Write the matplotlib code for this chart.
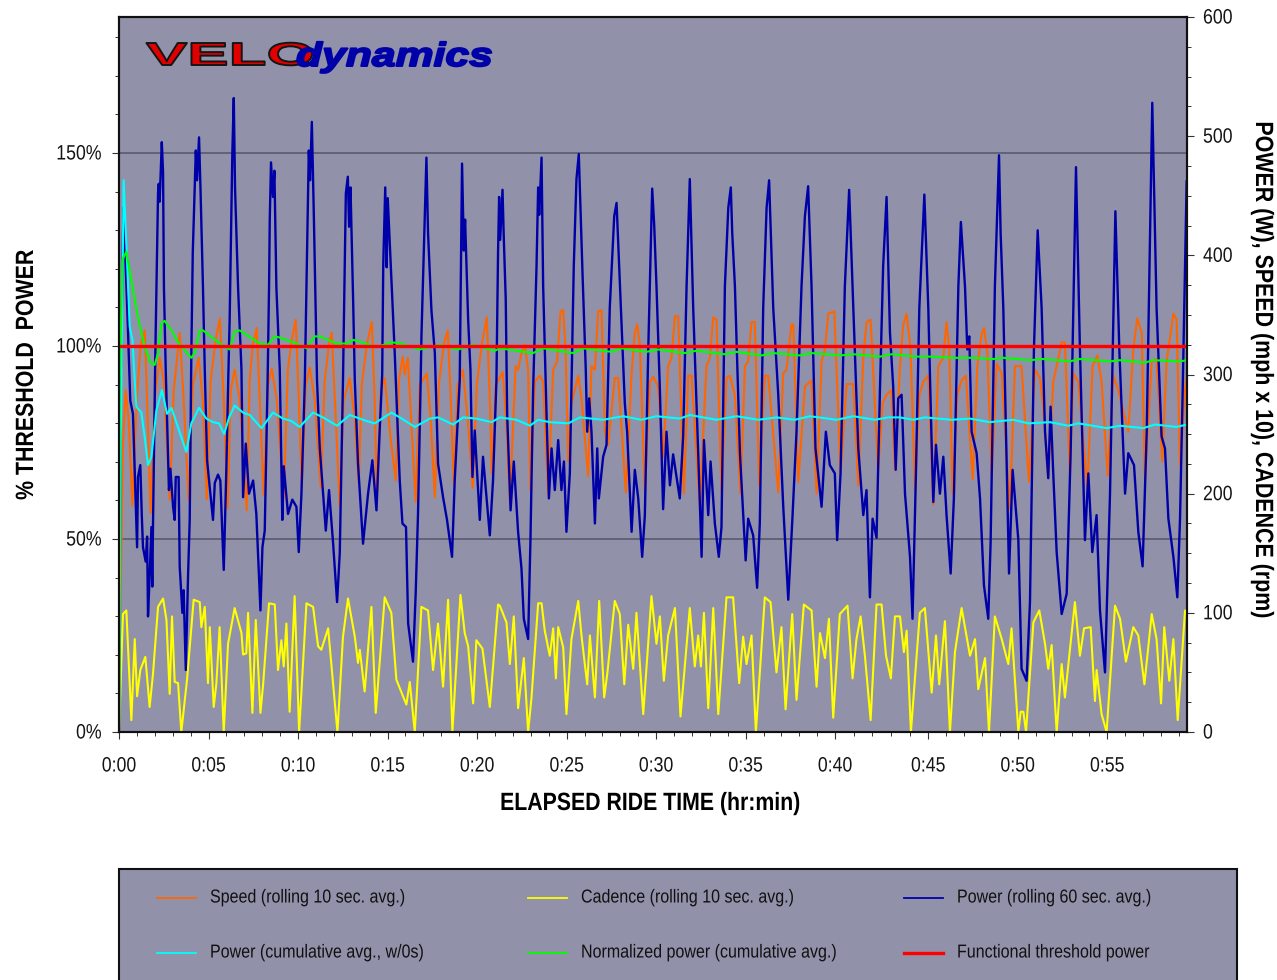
import matplotlib
matplotlib.use("Agg")
import matplotlib.pyplot as plt
import matplotlib.patheffects as pe
from matplotlib.lines import Line2D
from matplotlib.patches import Rectangle
from matplotlib.ticker import MultipleLocator, FixedLocator
from matplotlib.transforms import Affine2D

# --- data: (elapsed minutes, value on the right-hand axis) ---
power = [(0,0),(0.1,300),(0.25,440),(0.45,360),(0.63,278),(0.78,267),(1.01,155),(1.06,214),(1.19,224),(1.27,183),(1.34,155),(1.49,143),(1.57,164),(1.62,97),(1.71,130),(1.81,172),(1.86,122),(1.90,175),(2.03,318),(2.09,373),(2.18,452),(2.22,460),(2.27,445),(2.39,495),(2.46,470),(2.51,373),(2.61,304),
(2.79,203),(2.87,221),(3.02,189),(3.11,178),(3.17,214),(3.33,214),(3.39,139),(3.54,100),(3.61,119),(3.73,52),(3.86,133),(3.95,178),(4.04,318),(4.12,402),(4.29,488),(4.36,463),(4.47,499),(4.55,457),(4.69,373),(4.79,304),
(4.92,228),(5.03,211),(5.25,178),(5.35,209),(5.53,216),(5.66,211),(5.85,136),(6.0,223),(6.1,295),(6.18,346),(6.33,486),(6.41,532),(6.48,457),(6.65,373),(6.84,304),
(6.93,197),(7.08,242),(7.26,200),(7.49,211),(7.67,183),(7.90,102),(8.01,155),(8.14,169),(8.30,295),(8.38,373),(8.42,430),(8.49,478),(8.60,449),(8.68,471),(8.79,373),(8.98,304),
(9.12,178),(9.2,223),(9.44,183),(9.68,195),(9.91,189),(10.04,151),(10.19,200),(10.38,295),(10.47,373),(10.6,488),(10.67,463),(10.77,512),(10.88,435),(11.0,340),(11.06,295),
(11.21,239),(11.55,169),(11.73,203),(11.96,158),(12.18,109),(12.33,150),(12.51,295),(12.67,452),(12.78,466),(12.85,424),(12.93,457),(13.08,360),(13.17,295),
(13.35,225),(13.63,158),(13.91,200),(14.15,228),(14.38,186),(14.56,253),(14.7,300),(14.76,393),(14.87,457),(14.95,390),(15.01,448),(15.22,379),(15.4,318),
(15.68,211),(15.83,175),(16.03,172),(16.15,91),(16.42,59),(16.57,116),(16.7,183),(16.85,295),(16.89,331),(17.08,435),(17.17,482),(17.26,419),(17.45,354),(17.64,318),
(17.82,225),(18.1,197),(18.32,178),(18.6,147),(18.75,211),(19.03,295),(19.16,477),(19.26,404),(19.33,430),(19.5,346),(19.63,304),
(19.74,214),(19.87,253),(20.15,178),(20.33,231),(20.71,165),(20.89,211),(21.08,295),(21.17,402),(21.23,449),(21.29,413),(21.42,455),(21.49,415),(21.6,363),
(21.68,266),(21.87,186),(22.05,227),(22.29,168),(22.48,137),(22.61,95),(22.85,78),(22.98,161),(23.13,287),(23.32,391),(23.41,457),(23.47,434),(23.6,482),
(23.69,374),(23.88,266),(24.01,196),(24.16,238),(24.34,203),(24.53,245),(24.71,203),(24.85,227),(24.99,168),(25.18,217),(25.4,391),(25.55,464),(25.68,485),
(25.89,384),(26.07,304),(26.15,252),(26.26,280),(26.39,252),(26.58,175),(26.71,238),(26.8,196),(27.04,231),(27.23,241),(27.41,356),(27.66,433),(27.79,444),
(28.01,363),(28.25,276),(28.38,252),(28.63,168),(28.81,220),(29.0,196),(29.22,147),(29.37,182),(29.56,321),(29.78,456),(29.89,426),
(30.02,374),(30.21,287),(30.39,187),(30.58,252),(30.77,207),(30.95,233),(31.32,196),(31.51,248),(31.7,374),(31.88,464),
(32.07,356),(32.35,234),(32.54,147),(32.67,245),(32.91,182),(33.04,227),(33.28,175),(33.5,147),(33.65,172),(33.84,374),(34.03,440),(34.17,457),(34.25,419),
(34.4,374),(34.68,234),(35.0,144),(35.14,179),(35.42,165),(35.64,121),(35.79,175),(35.98,356),(36.17,440),(36.31,463),
(36.54,356),(36.82,283),(37.1,189),(37.38,111),(37.62,182),(37.84,252),(38.12,374),(38.31,433),(38.49,458),
(38.68,374),(38.9,238),(39.24,189),(39.48,252),(39.7,224),(39.98,217),(40.11,161),(40.3,217),(40.54,374),(40.78,455),
(41.01,356),(41.29,238),(41.57,182),(41.75,203),(41.94,113),(42.09,179),(42.31,163),(42.5,287),(42.68,391),(42.87,449),
(43.06,335),(43.24,290),(43.38,220),(43.52,280),(43.71,283),(43.9,200),(44.18,147),(44.32,95),(44.51,217),(44.7,356),(44.98,451),
(45.2,356),(45.39,241),(45.48,193),(45.63,241),(45.85,200),(46.04,231),(46.22,182),(46.45,133),(46.63,196),(46.88,374),(47.02,428),
(47.25,374),(47.38,321),(47.49,332),(47.62,252),(47.9,234),(48.09,196),(48.31,123),(48.55,95),(48.68,158),(48.92,374),(49.15,484),(49.24,419),
(49.39,356),(49.58,224),(49.71,133),(49.91,220),(50.23,161),(50.41,53),(50.69,43),(50.88,109),(51.1,321),(51.31,421),
(51.53,356),(51.72,252),(51.9,213),(52.03,273),(52.18,217),(52.37,151),(52.65,99),(52.93,116),(53.15,234),(53.45,474),
(53.67,321),(53.95,161),(54.14,217),(54.36,151),(54.6,182),(54.79,102),(55.07,50),(55.35,200),(55.65,437),
(55.87,321),(56.19,200),(56.37,234),(56.69,224),(56.93,168),(57.17,139),(57.4,252),(57.71,528),
(57.95,356),(58.23,248),(58.42,238),(58.61,179),(58.89,147),(59.11,113),(59.26,179),(59.41,287),(59.63,462)]

speed = [(0,0),(.09,111),(.21,237),(.37,287),(.54,262),(.75,190),(.99,279),(1.21,325),(1.44,337),(1.60,262),(1.77,184),(1.99,279),(2.27,314),(2.5,295),(2.83,195),(3.06,287),(3.39,335),(3.61,279),(3.89,195),(4.12,291),(4.45,314),(4.68,279),(4.90,195),(5.12,295),(5.40,329),(5.63,347),(5.85,279),(6.07,188),(6.24,287),(6.46,304),(6.74,279),(7.13,186),(7.3,295),(7.47,325),(7.69,339),(7.86,279),(8.08,199),(8.31,291),(8.53,305),(8.81,279),(9.2,196),(9.43,304),(9.65,329),(9.87,346),(10.04,279),(10.21,206),(10.43,291),(10.65,306),(10.93,279),(11.27,205),(11.49,295),(11.72,325),(11.88,335),(12.11,262),(12.33,189),(12.55,279),(12.89,297),(13.17,262),(13.39,209),(13.56,291),(13.84,325),(14.12,344),(14.28,279),(14.4,195),(14.62,287),(14.84,297),(15.18,245),(15.46,211),(15.63,295),(15.85,315),(15.96,300),(16.13,314),(16.35,253),(16.57,193),(16.8,291),(17.19,301),(17.41,262),(17.64,197),(17.86,291),(18.14,325),(18.36,337),(18.53,279),(18.7,209),(18.92,291),(19.2,304),(19.48,262),(19.76,205),(19.98,291),(20.26,325),(20.54,348),(20.71,279),(20.82,217),(21.04,291),(21.43,302),(21.64,259),(21.83,193),
(22.15,307),(22.29,304),(22.48,318),(22.67,325),(22.85,304),(22.98,203),(23.23,294),(23.5,299),(23.69,294),(23.97,200),(24.25,304),(24.47,311),(24.66,353),(24.81,354),(24.94,321),(25.09,227),(25.27,276),(25.65,299),(25.83,280),(26.2,215),(26.39,307),(26.58,304),(26.76,353),(26.95,354),(27.14,252),(27.32,241),(27.69,297),(27.88,297),(28.31,201),(28.63,301),(28.81,335),(28.94,342),(29.09,325),(29.37,203),(29.65,294),(29.84,298),(30.11,290),(30.39,231),(30.67,307),(30.86,314),(31.05,349),(31.23,349),(31.55,200),(31.79,299),(31.98,299),(32.44,189),(32.81,307),(33.0,314),(33.19,348),(33.37,346),(33.65,201),(33.93,297),(34.12,299),(34.4,283),(34.71,200),(34.96,307),(35.14,311),(35.33,344),(35.51,344),(35.76,207),(36.07,299),(36.26,299),(36.82,201),(37.1,301),(37.28,304),(37.56,342),(37.66,342),(37.94,210),(38.31,290),(38.68,295),(38.96,200),(39.24,311),(39.43,321),(39.61,351),(39.95,353),(40.3,217),(40.64,292),(41.01,292),(41.29,207),(41.57,314),(41.75,344),(41.98,346),(42.4,219),(42.65,276),(42.87,283),(43.15,287),
(43.34,220),(43.62,307),(43.8,342),(43.99,351),(44.21,321),(44.46,203),(44.7,283),(44.92,294),(45.2,299),(45.48,191),(45.76,307),(46.04,314),(46.22,344),(46.37,321),(46.56,200),(46.82,283),(47.06,295),(47.3,299),(47.68,212),(47.94,307),(48.18,334),(48.31,339),(48.5,318),(48.74,215),(49.02,309),(49.3,301),(49.76,187),(50.04,307),(50.41,307),(50.82,210),(51.16,304),(51.44,297),(51.62,273),(51.9,213),(52.18,294),(52.37,307),(52.65,327),(52.83,327),(53.11,215),(53.3,301),(53.58,294),(54.08,205),(54.38,307),(54.64,316),(54.88,294),(55.22,215),(55.53,299),(55.81,287),(56.37,252),(56.65,321),(56.87,347),(57.12,335),(57.3,212),(57.68,311),(57.95,313),(58.27,227),(58.51,311),(58.89,351),(59.07,346),(59.26,224),(59.54,287),(59.65,300)]

cadence = [(0,0),(.22,99),(.41,102),(.5,72),(.69,10),(.88,78),(1.01,30),(1.19,52),(1.47,63),(1.71,21),(1.90,49),(2.18,105),(2.46,112),(2.65,94),(2.83,32),(2.96,97),(3.11,42),(3.3,41),(3.48,0),(3.8,44),(4.17,111),(4.51,109),(4.6,88),(4.79,105),(4.97,41),(5.07,88),(5.29,21),(5.44,41),(5.62,88),(5.85,0),(6.09,74),(6.46,104),(6.84,83),(6.93,65),(7.11,66),(7.21,100),(7.45,16),(7.64,94),(7.9,16),(8.05,40),(8.38,108),(8.7,107),(8.88,52),(9.07,77),(9.2,55),(9.35,91),(9.53,17),(9.81,114),(10.06,0),(10.47,108),(10.84,105),(11.12,72),(11.3,69),(11.68,87),(12.2,0),(12.51,80),(12.79,112),(13.17,80),(13.35,58),(13.45,69),(13.72,34),(14.1,105),(14.34,16),(14.84,113),(15.21,100),(15.49,44),(16.05,23),(16.24,42),(16.52,0),(16.89,105),(17.26,102),(17.54,52),(17.82,91),(18.1,38),(18.38,111),(18.62,0),(19.07,115),(19.31,83),(19.5,72),(19.78,24),(19.96,77),(20.3,70),(20.71,21),(21.17,107),(21.27,106),(21.64,92),(21.83,57),
(22.05,97),(22.29,20),(22.61,62),(22.85,0),(23.04,29),(23.41,108),(23.6,108),(23.78,85),(24.06,64),(24.25,87),(24.4,45),(24.53,88),(24.81,71),(24.99,15),(25.27,78),(25.65,110),(25.83,81),(26.15,40),(26.3,81),(26.58,29),(26.82,110),(27.1,29),(27.28,50),(27.69,110),(27.97,99),(28.22,40),(28.44,90),(28.72,53),(28.9,100),(29.28,15),(29.74,114),(30.02,74),(30.21,97),(30.43,43),(30.67,81),(31.05,104),(31.36,13),(31.88,104),(32.16,55),(32.35,81),(32.5,55),(32.67,100),(32.91,20),(33.19,104),(33.47,15),(33.93,113),(34.3,113),(34.64,41),(34.86,80),(35.05,57),(35.33,81),(35.57,0),(36.07,113),(36.39,109),(36.72,50),(37.0,88),(37.23,19),(37.6,99),(37.84,27),(38.25,107),(38.68,102),(38.96,38),(39.15,83),(39.43,62),(39.65,95),(39.89,12),(40.26,99),(40.69,106),(40.97,45),(41.19,78),(41.42,97),(41.66,64),(41.98,10),(42.31,107),(42.59,107),(42.84,64),(43.11,45),
(43.34,97),(43.62,97),(43.84,67),(43.99,85),(44.23,0),(44.73,100),(45.01,104),(45.39,33),(45.63,81),(45.81,40),(46.13,93),(46.41,0),(46.69,67),(47.06,104),(47.53,64),(47.81,78),(47.99,36),(48.37,62),(48.59,0),(48.92,97),(49.3,78),(49.67,57),(49.85,87),(50.23,0),(50.36,17),(50.51,17),(50.66,0),(51.07,92),(51.4,102),(51.72,74),(51.9,53),(52.09,73),(52.37,0),(52.65,57),(52.83,29),(53.39,109),(53.67,64),(53.9,87),(54.27,88),(54.51,26),(54.6,52),(54.88,15),(55.16,0),(55.63,106),(55.91,95),(56.24,59),(56.65,88),(56.93,81),(57.27,40),(57.68,99),(57.95,78),(58.2,24),(58.38,88),(58.66,43),(58.89,78),(59.13,10),(59.54,102),(59.65,99)]

power_cum = [(0,0),(.1,250),(.26,463),(.43,402),(.6,340),(.75,329),(.88,295),(.97,273),(1.25,268),(1.44,247),(1.62,224),(1.81,231),(2.09,270),(2.4,287),(2.68,267),(2.93,272),(3.76,235),(4.04,259),(4.47,272),(4.88,263),(5.25,260),(5.59,259),(5.87,250),(6.15,264),(6.46,274),(6.93,268),(7.3,266),(7.96,255),(8.6,268),(9.16,263),(9.63,261),(10.09,256),(10.84,268),(11.4,264),(12.18,257),(12.89,266),(13.82,261),(14.28,259),(15.22,268),(15.68,264),(16.52,256),(17.36,263),(17.82,264),(18.66,258),(19.22,264),(19.97,263),(20.81,260),(21.27,264),(22.2,262),(22.95,257),(23.41,262),(24.06,260),(25.09,259),(25.74,264),(27.04,262),(28.16,265),(29.18,262),(30.02,265),(31.32,263),(31.88,266),(33.37,262),(34.49,265),(35.7,262),(36.72,264),(37.75,262),(38.59,265),(40.08,262),(41.01,265),(42.22,262),(42.96,264),(43.62,264),(44.36,262),(45.01,264),(46.5,262),(47.53,263),(48.64,260),(49.95,262),(50.79,259),(52.0,260),(53.02,257),(53.58,259),(55.16,255),(55.91,257),(57.21,255),(57.86,258),(59.07,256),(59.65,258)]

norm_power = [(0,0),(.04,295),(.19,396),(.41,403),(.69,379),(1.06,348),(1.44,323),(1.75,310),(1.99,308),(2.18,318),(2.37,343),(2.55,345),(2.93,337),(3.39,325),(4.04,314),(4.23,318),(4.51,337),(4.69,337),(5.63,326),(6.18,321),(6.46,336),(6.74,337),(7.86,326),(8.32,325),(8.7,332),(8.98,331),(9.91,326),(10.47,322),(10.93,332),(11.21,332),(12.15,326),(12.7,326),(13.08,329),(13.35,328),(14.38,323),(15.22,327),(15.78,326),(16.8,321),(17.92,325),(18.94,321),(19.78,325),(20.99,320),(21.27,322),(23.13,318),(23.69,322),(25.37,318),(25.92,322),(27.51,319),(28.07,322),(29.46,319),(30.11,321),(31.6,318),(32.26,320),(33.84,317),(34.49,319),(35.89,316),(36.54,318),(38.03,316),(38.68,318),(40.26,316),(41.01,317),(42.5,315),(43.15,317),(44.55,315),(45.29,315),(46.78,314),(47.71,314),(48.83,313),(49.39,314),(50.88,312),(51.62,313),(53.11,311),(53.67,313),(55.35,311),(55.91,312),(57.3,310),(57.77,312),(59.26,311),(59.65,312)]

ride_end = 59.65
ftp_watts = 324
x_labels = ["0:00","0:05","0:10","0:15","0:20","0:25","0:30","0:35","0:40","0:45","0:50","0:55"]
# The reference's time axis has a small jump between 0:40 and 0:45.
x_major = [0,5,10,15,20,25,30,35,40,45.2,50.2,55.2]
x_minor = list(range(0, 41)) + [41.04,42.08,43.12,44.16,46.2,47.2,48.2,49.2,51.2,52.2,53.2,54.2,56.2,57.2,58.2,59.2]
pct_ticks = [0,50,100,150]
pct_labels = ["0%","50%","100%","150%"]
right_ticks = [0,100,200,300,400,500,600]
legend_labels = ["Speed (rolling 10 sec. avg.)","Cadence (rolling 10 sec. avg.)","Power (rolling 60 sec. avg.)",
                 "Power (cumulative avg., w/0s)","Normalized power (cumulative avg.)","Functional threshold power"]

# --- styles ---
W, H = 1277, 980
BG = "#9191AA"
C_SPEED, C_CAD, C_POW, C_CUM, C_NP, C_FTP = "#FF6600", "#FFFF00", "#0000A8", "#00FFFF", "#00FF00", "#FF0000"
plt.rcParams["font.family"] = ["Liberation Sans"]

class Squeeze(pe.AbstractPathEffect):
    """Scale glyphs along the text direction, keeping the alignment anchor; optional outline."""
    def __init__(self, sx, frac=0.0, edge=None, lw=0):
        super().__init__()
        self.sx, self.frac, self.edge, self.lw = sx, frac, edge, lw
    def draw_path(self, renderer, gc, tpath, affine, rgbFace=None):
        width = tpath.get_extents().x1
        shift = (1 - self.sx) * width * self.frac
        aff = Affine2D().scale(self.sx, 1).translate(shift, 0) + affine
        if self.edge is not None:
            g = renderer.new_gc(); g.copy_properties(gc)
            g.set_foreground(self.edge); g.set_linewidth(self.lw)
            renderer.draw_path(g, tpath, aff, rgbFace)
            g.restore()
        else:
            renderer.draw_path(gc, tpath, aff, rgbFace)

FRAC = {"left": 0.0, "center": 0.5, "right": 1.0}

def fx(px): return px / W
def fy(py): return 1 - py / H
def ftext(x, y, s, sx=0.85, ha="left", **kw):
    return fig.text(fx(x), fy(y), s, ha=ha, path_effects=[Squeeze(sx, FRAC[ha])], **kw)

fig = plt.figure(figsize=(W/100, H/100), dpi=100, facecolor="white")
ax = fig.add_axes([fx(119), fy(732), (1187-119)/W, (732-17)/H], facecolor=BG)
axr = ax.twinx()

ax.set_xlim(0, ride_end)
ax.set_ylim(0, 185.2)
axr.set_ylim(0, 600)

ax.set_yticks(pct_ticks); ax.set_yticklabels([])
ax.yaxis.set_minor_locator(MultipleLocator(10))
ax.set_xticks(x_major); ax.set_xticklabels([])
ax.xaxis.set_minor_locator(FixedLocator(x_minor))
ax.grid(True, axis="y", which="major", color="#55556A", lw=1.1)
ax.set_axisbelow(True)
axr.set_yticks(right_ticks); axr.set_yticklabels([])
axr.yaxis.set_minor_locator(MultipleLocator(25))

for a in (ax, axr):
    a.tick_params(which="major", length=5, width=0.8, color="#333333")
    a.tick_params(which="minor", length=3, width=0.7, color="#333333")
    for s in a.spines.values():
        s.set_linewidth(1.5)
        s.set_color("#101010")

def draw(series, color, lw, label):
    t, v = zip(*series)
    axr.plot(t, v, color=color, lw=lw, label=label, solid_joinstyle="round")

draw(speed, C_SPEED, 1.5, legend_labels[0])
draw(cadence, C_CAD, 1.5, legend_labels[1])
draw(power, C_POW, 1.7, legend_labels[2])
draw(power_cum, C_CUM, 1.5, legend_labels[3])
draw(norm_power, C_NP, 1.5, legend_labels[4])
axr.plot([0, ride_end], [ftp_watts, ftp_watts], color=C_FTP, lw=2.4, label=legend_labels[5])

# tick labels
TICK = 15
for v, s in zip(pct_ticks, pct_labels):
    y = 732 - v * (732 - 346) / 100
    ftext(102, y + 1, s, ha="right", va="center", fontsize=TICK, color="#151515")
for v in right_ticks:
    y = 732 - v * (732 - 17) / 600
    ftext(1203, y + 1, str(v), ha="left", va="center", fontsize=TICK, color="#151515")
for m, s in zip(x_major, x_labels):
    x = 119.3 + m * 17.9
    ftext(x, 766, s, ha="center", va="center", fontsize=TICK, color="#151515")

# axis titles
ftext(650, 803, "ELAPSED RIDE TIME (hr:min)", sx=0.851, ha="center", va="center", fontsize=18, fontweight="bold", color="black")
ftext(26, 375, "% THRESHOLD  POWER", sx=0.854, ha="center", va="center", rotation=90, fontsize=18, fontweight="bold", color="black")
ftext(1263, 370, "POWER (W), SPEED (mph x 10), CADENCE (rpm)", sx=0.856, ha="center", va="center", rotation=270, fontsize=18, fontweight="bold", color="black")

# logo
fig.text(fx(146), fy(65), "VELO", ha="left", va="baseline", fontsize=23, fontweight="bold",
         color="#E00000", path_effects=[Squeeze(1.94, 0.0, "#151515", 1.4)])
fig.text(fx(296), fy(66), "dynamics", ha="left", va="baseline", fontsize=24, fontweight="bold", style="italic",
         color="#0000A8", path_effects=[Squeeze(1.28, 0.0, "#0000A8", 1.4)])

# legend panel
fig.add_artist(Rectangle((fx(119), fy(990)), (1237-119)/W, (990-869)/H, transform=fig.transFigure,
                         facecolor=BG, edgecolor="#101010", lw=1.5))
rows = [898, 953]
cols = [(157, 196, 210), (528, 567, 581), (904, 943, 957)]
styles = [(C_SPEED, 1.3), (C_CAD, 1.3), (C_POW, 1.3), (C_CUM, 1.3), (C_NP, 1.3), (C_FTP, 2.4)]
for i, label in enumerate(legend_labels):
    x0, x1, xt = cols[i % 3]
    y = rows[i // 3]
    color, lw = styles[i]
    fig.add_artist(Line2D([fx(x0), fx(x1)], [fy(y), fy(y)], transform=fig.transFigure, color=color, lw=lw))
    ftext(xt, y, label, sx=0.855, ha="left", va="center", fontsize=13.5, color="#101010")

fig.savefig("out.png", dpi=100, facecolor="white")
